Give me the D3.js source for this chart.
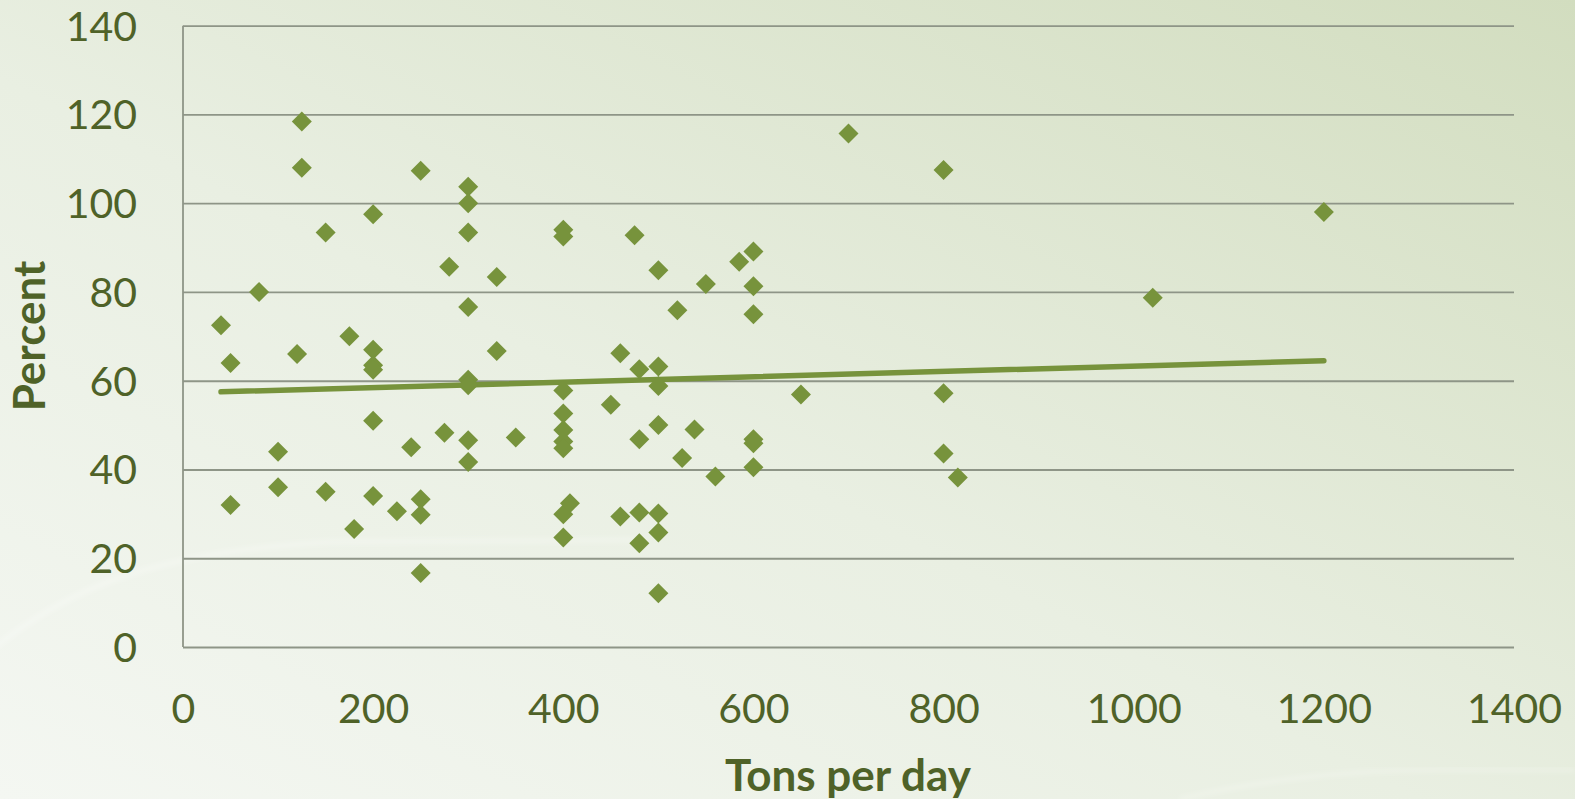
<!DOCTYPE html>
<html>
<head>
<meta charset="utf-8">
<script src="https://cdn.jsdelivr.net/npm/d3@7"></script>
<style>
  html, body { margin: 0; padding: 0; overflow: hidden; }
  svg { display: block; }
</style>
</head>
<body>
<svg id="chart" width="1575" height="799"></svg>
<script>
// Plant capacity (tons per day) vs. percent, one point per plant
const tonsPerDay = [
  40, 50, 50, 80, 100, 100, 120, 125, 125, 150, 150, 175, 180,
  200, 200, 200, 200, 200, 200, 225, 240, 250, 250, 250, 250,
  275, 280, 300, 300, 300, 300, 300, 300, 300, 300, 330, 330, 350,
  400, 400, 400, 400, 400, 400, 400, 400, 407, 400,
  450, 460, 460, 475, 480, 480, 480, 480,
  500, 500, 500, 500, 500, 500, 500, 520, 525, 538, 550, 560, 585,
  600, 600, 600, 600, 600, 600, 650, 700, 800, 800, 800, 815, 1020, 1200
];
const percentValues = [
  72.5, 64.0, 32.0, 80.0, 44.0, 36.0, 66.0, 118.4, 108.0, 93.4, 35.0, 70.0, 26.6,
  97.5, 67.0, 63.5, 62.5, 51.0, 34.0, 30.6, 45.0, 107.3, 33.3, 29.8, 16.7,
  48.3, 85.7, 103.7, 100.0, 93.4, 76.6, 60.2, 59.0, 46.6, 41.7, 83.4, 66.7, 47.2,
  94.0, 92.5, 57.8, 52.6, 48.9, 46.3, 44.8, 29.9, 32.4, 24.7,
  54.6, 29.4, 66.2, 92.8, 62.6, 46.8, 30.3, 23.4,
  84.9, 63.2, 58.8, 50.0, 30.1, 25.8, 12.1, 75.9, 42.6, 49.0, 81.8, 38.4, 86.8,
  89.1, 81.3, 75.0, 46.8, 45.9, 40.5, 56.9, 115.7, 107.5, 57.2, 43.6, 38.2, 78.7, 98.0
];

// Linear trendline endpoints
const trendX = [40, 1200];
const trendY = [57.5, 64.5];

const xTicks = [0, 200, 400, 600, 800, 1000, 1200, 1400];
const yTicks = [0, 20, 40, 60, 80, 100, 120, 140];

const xTitle = "Tons per day";
const yTitle = "Percent";

const W = 1575, H = 799;
const plotL = 183, plotR = 1514, plotT = 25.7, plotB = 647;

const textColor = "#4f6228";
const markColor = "#77933c";
const gridColor = "#8e9587";
const font = "Lato, 'Open Sans', sans-serif";

const svg = d3.select("#chart");
const defs = svg.append("defs");

// slide background
const bg = defs.append("linearGradient").attr("id", "bg")
  .attr("x1", "0").attr("y1", "1").attr("x2", "1").attr("y2", "0");
bg.append("stop").attr("offset", "0").attr("stop-color", "#f4f7f2");
bg.append("stop").attr("offset", "0.45").attr("stop-color", "#e9efe2");
bg.append("stop").attr("offset", "1").attr("stop-color", "#d2ddbf");
svg.append("rect").attr("width", W).attr("height", H).attr("fill", "url(#bg)");

const blur = defs.append("filter").attr("id", "soft");
blur.append("feGaussianBlur").attr("stdDeviation", 2.5);

// faint decorative swoosh
svg.append("path")
  .attr("d", "M -20 660 C 60 590, 150 552, 330 542 L 640 540")
  .attr("fill", "none").attr("stroke", "#ffffff").attr("stroke-opacity", 0.3)
  .attr("stroke-width", 4).attr("filter", "url(#soft)");
svg.append("path")
  .attr("d", "M 1180 799 C 1260 780, 1350 770, 1440 770 L 1575 770")
  .attr("fill", "none").attr("stroke", "#ffffff").attr("stroke-opacity", 0.3)
  .attr("stroke-width", 3).attr("filter", "url(#soft)");

const x = d3.scaleLinear().domain([0, 1400]).range([plotL, plotR]);
const y = d3.scaleLinear().domain([0, 140]).range([plotB, plotT]);

// horizontal gridlines
const gridAxis = d3.axisLeft(y).tickValues(yTicks).tickSize(-(plotR - plotL)).tickFormat("");
const grid = svg.append("g").attr("transform", `translate(${plotL},0)`).call(gridAxis);
grid.select(".domain").remove();
grid.selectAll("line").attr("stroke", gridColor).attr("stroke-width", 1.8);

// vertical axis line
svg.append("line")
  .attr("x1", plotL).attr("x2", plotL).attr("y1", y(140)).attr("y2", y(0))
  .attr("stroke", gridColor).attr("stroke-width", 1.8);

// y tick labels
const yAxis = d3.axisLeft(y).tickValues(yTicks).tickSize(0).tickPadding(46)
  .tickFormat(d3.format("d"));
const yg = svg.append("g").attr("transform", `translate(${plotL},0)`).call(yAxis);
yg.select(".domain").remove();
yg.selectAll("text")
  .attr("fill", textColor).attr("font-family", font).attr("font-size", 41)
  .attr("dy", "0.35em");

// x tick labels
const xAxis = d3.axisBottom(x).tickValues(xTicks).tickSize(0).tickPadding(47)
  .tickFormat(d3.format("d"));
const xg = svg.append("g").attr("transform", `translate(0,${plotB})`).call(xAxis);
xg.select(".domain").remove();
xg.selectAll("text")
  .attr("fill", textColor).attr("font-family", font).attr("font-size", 41);

// axis titles
svg.append("text")
  .attr("x", (plotL + plotR) / 2 - 0.5).attr("y", 791)
  .attr("text-anchor", "middle")
  .attr("fill", textColor).attr("font-family", font)
  .attr("font-weight", "bold").attr("font-size", 44)
  .text(xTitle);

svg.append("text")
  .attr("transform", "translate(45,336) rotate(-90)")
  .attr("text-anchor", "middle")
  .attr("fill", textColor).attr("font-family", font)
  .attr("font-weight", "bold").attr("font-size", 44)
  .text(yTitle);

// trendline
const line = d3.line().x(d => x(d[0])).y(d => y(d[1]));
svg.append("path")
  .datum(d3.zip(trendX, trendY))
  .attr("d", line)
  .attr("fill", "none").attr("stroke", markColor)
  .attr("stroke-width", 5.5).attr("stroke-linecap", "round");

// diamond markers
const r = 10;
svg.append("g").selectAll("path")
  .data(d3.zip(tonsPerDay, percentValues))
  .join("path")
  .attr("d", `M0,${-r} L${r},0 L0,${r} L${-r},0 Z`)
  .attr("transform", d => `translate(${x(d[0])},${y(d[1])})`)
  .attr("fill", markColor);
</script>
</body>
</html>
